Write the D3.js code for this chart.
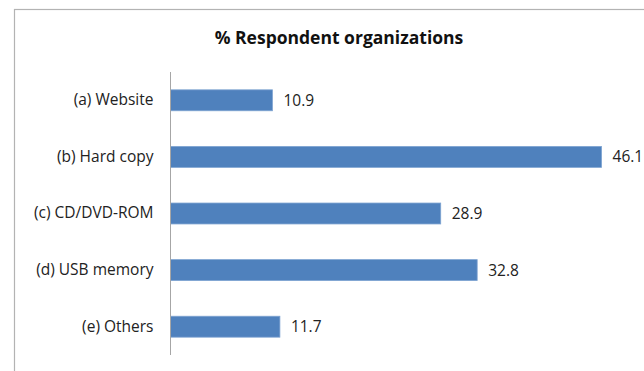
<!DOCTYPE html>
<html>
<head>
<meta charset="utf-8">
<script src="https://cdn.jsdelivr.net/npm/d3@7"></script>
<style>
  html, body { margin: 0; padding: 0; background: #fff; overflow: hidden; }
  svg { display: block; }
</style>
</head>
<body>
<svg id="chart" width="644" height="371"></svg>
<script>
// Share of respondent organizations by distribution medium
const categories = ["(a) Website", "(b) Hard copy", "(c) CD/DVD-ROM", "(d) USB memory", "(e) Others"];
const values = [10.9, 46.1, 28.9, 32.8, 11.7];
const chartTitle = "% Respondent organizations";

const width = 644, height = 371;
const svg = d3.select("#chart");
const font = "'Open Sans', 'DejaVu Sans', sans-serif";

// Chart frame (extends past the visible area on the right and bottom)
svg.append("rect")
  .attr("x", 14.5).attr("y", 9.5)
  .attr("width", 700).attr("height", 420)
  .attr("fill", "#fff")
  .attr("stroke", "#b3b3b3")
  .attr("stroke-width", 1.2);

const x = d3.scaleLinear().domain([0, 50]).range([170.5, 638]);
const y = d3.scaleBand().domain(categories).range([72, 355])
  .paddingInner(0.63).paddingOuter(0.315);

svg.append("text")
  .attr("x", 339).attr("y", 44)
  .attr("text-anchor", "middle")
  .attr("font-family", font)
  .attr("font-weight", "bold")
  .attr("font-size", 17.5)
  .attr("fill", "#111")
  .text(chartTitle);

const data = categories.map((c, i) => ({ c, v: values[i] }));

svg.selectAll("rect.bar").data(data).join("rect")
  .attr("class", "bar")
  .attr("x", x(0))
  .attr("y", d => y(d.c))
  .attr("width", d => x(d.v) - x(0))
  .attr("height", y.bandwidth())
  .attr("fill", "#4f81bd")
  .attr("stroke", "#7ea3d1")
  .attr("stroke-width", 0.8);

// Category axis on the left
const yAxis = svg.append("g")
  .attr("transform", `translate(${x(0)},0)`)
  .call(d3.axisLeft(y).tickSize(0).tickPadding(17));
yAxis.select(".domain").attr("stroke", "#a6a6a6").attr("d", "M0,72V355");
yAxis.selectAll("text")
  .attr("font-family", font)
  .attr("font-size", 15.5)
  .attr("fill", "#222");

svg.selectAll("text.val").data(data).join("text")
  .attr("class", "val")
  .attr("x", d => x(d.v) + 11)
  .attr("y", d => y(d.c) + y.bandwidth() / 2)
  .attr("dy", "0.35em")
  .attr("font-family", font)
  .attr("font-size", 15.5)
  .attr("fill", "#222")
  .text(d => d.v.toFixed(1));
</script>
</body>
</html>
